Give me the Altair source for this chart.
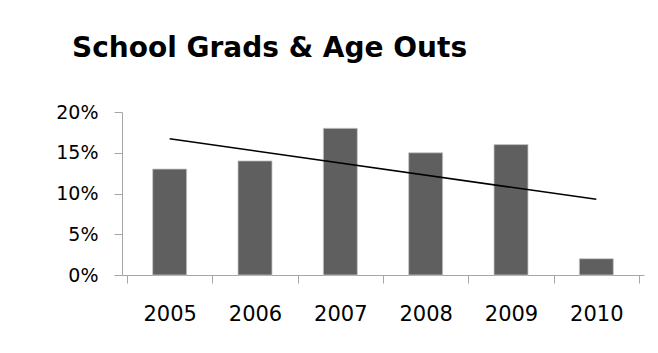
import altair as alt
import pandas as pd
import json

years = ["2005", "2006", "2007", "2008", "2009", "2010"]
rates = [0.13, 0.14, 0.18, 0.15, 0.16, 0.02]

df = pd.DataFrame({"year": years, "rate": rates, "pos": [i + 0.5 for i in range(len(years))]})

years_js = json.dumps(years)
n = len(years)

x_scale = alt.Scale(domain=[0, n], nice=False, zero=False)
y_scale = alt.Scale(domain=[0, 0.2], nice=False)

x_axis = alt.Axis(
    values=[v / 2 for v in range(0, 2 * n + 1)],
    labelExpr=f"datum.value % 1 === 0 ? '' : {years_js}[floor(datum.value)]",
    tickOpacity={"condition": {"test": "datum.value % 1 === 0", "value": 1}, "value": 0},
    title=None, grid=False, tickSize=8, tickColor="#a6a6a6", domainColor="#a6a6a6",
    labelFont="DejaVu Sans", labelFontSize=21, labelColor="#000000", labelPadding=20,
    labelFlush=False, labelOverlap=False, labelBound=False,
)

y_axis = alt.Axis(
    values=[0, 0.05, 0.10, 0.15, 0.20], format=".0%", title=None, grid=False,
    tickSize=8, tickColor="#a6a6a6", domainColor="#a6a6a6",
    labelFont="DejaVu Sans", labelFontSize=19, labelColor="#000000", labelPadding=16,
)

bars = alt.Chart(df).mark_bar(size=34, color="#5f5f5f", stroke="#c8c8c8", strokeWidth=0.8).encode(
    x=alt.X("pos:Q", scale=x_scale, axis=x_axis),
    y=alt.Y("rate:Q", scale=y_scale, axis=y_axis),
)

trend = alt.Chart(df).transform_regression("pos", "rate").mark_line(color="#000000", strokeWidth=1.6).encode(
    x=alt.X("pos:Q", scale=x_scale),
    y=alt.Y("rate:Q", scale=y_scale),
)

chart = alt.layer(bars, trend).properties(
    width=522, height=163,
    autosize=alt.AutoSizeParams(type="none"),
    padding={"left": 122, "top": 112, "right": 14, "bottom": 78},
    title=alt.TitleParams(
        "School Grads & Age Outs", anchor="start", frame="group", dx=-50,
        font="DejaVu Sans", fontSize=28, fontWeight="bold", color="#000000",
        baseline="alphabetic", offset=18,
    ),
    background="#ffffff",
).configure_view(stroke=None)

chart.save("out.html", embed_options={"renderer": "svg", "actions": False})
